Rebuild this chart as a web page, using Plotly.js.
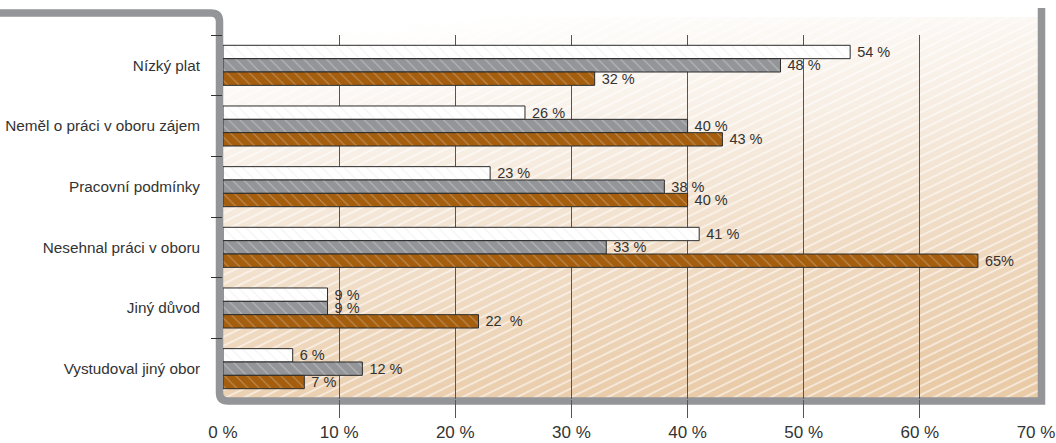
<!DOCTYPE html>
<html>
<head>
<meta charset="utf-8">
<script src="https://cdn.plot.ly/plotly-3.0.1.min.js"></script>
<style>
  html, body { margin: 0; padding: 0; background: #ffffff; }
  #chart { width: 1056px; height: 443px; }
</style>
</head>
<body>
<div id="chart"></div>
<script>
// ---- data ----
const categories = [
  'Nízký plat',
  'Neměl o práci v oboru zájem',
  'Pracovní podmínky',
  'Nesehnal práci v oboru',
  'Jiný důvod',
  'Vystudoval jiný obor'
];
const seriesWhite  = [54, 26, 23, 41, 9, 6];
const seriesGray   = [48, 40, 38, 33, 9, 12];
const seriesBrown  = [32, 43, 40, 65, 22, 7];
const labelsWhite  = ['54 %', '26 %', '23 %', '41 %', '9 %', '6 %'];
const labelsGray   = ['48 %', '40 %', '38 %', '33 %', '9 %', '12 %'];
const labelsBrown  = ['32 %', '43 %', '40 %', '65%', '22\u00a0\u00a0%', '7 %'];
const xTickVals = [0, 10, 20, 30, 40, 50, 60, 70];
const xTickText = ['0 %', '10 %', '20 %', '30 %', '40 %', '50 %', '60 %', '70 %'];
const gridVals  = [10, 20, 30, 40, 50, 60];

// ---- layout geometry (pixels) ----
const W = 1056, H = 443;
const ML = 223, MR = 20, MT = 35, MB = 44;
const PW = W - ML - MR, PH = H - MT - MB;
const px = x => (x - ML) / PW;
const py = y => (H - MB - y) / PH;

const FAMILY = '"Liberation Sans", Arial, sans-serif';
const txtFont = { family: FAMILY, size: 14.5, color: '#333333' };

function barTrace(vals, labels, color, patFg, patOpacity) {
  return {
    type: 'bar',
    orientation: 'h',
    y: categories,
    x: vals,
    text: labels,
    texttemplate: '\u00a0%{text}',
    textposition: 'outside',
    constraintext: 'none',
    cliponaxis: false,
    textfont: txtFont,
    hoverinfo: 'none',
    showlegend: false,
    marker: {
      color: color,
      line: { color: '#2b2b2b', width: 1 },
      pattern: {
        shape: '\\', fillmode: 'overlay', bgcolor: color,
        fgcolor: patFg, fgopacity: patOpacity, size: 8, solidity: 0.14
      }
    }
  };
}

const traces = [
  barTrace(seriesWhite, labelsWhite, '#ffffff', '#dddddd', 0.4),
  barTrace(seriesGray, labelsGray, '#939598', '#ffffff', 0.35),
  barTrace(seriesBrown, labelsBrown, '#a45e0e', '#ffffff', 0.3),
  { type: 'bar', orientation: 'h', x: [], y: [], xaxis: 'x2', yaxis: 'y', showlegend: false, hoverinfo: 'none' }
];

// hatched beige background
const bgSvg =
  "<svg xmlns='http://www.w3.org/2000/svg' width='820' height='385' viewBox='0 0 820 385' preserveAspectRatio='none'>" +
  "<defs>" +
  "<linearGradient id='g' x1='0.3' y1='0' x2='0.55' y2='1'>" +
  "<stop offset='0' stop-color='#ffffff'/>" +
  "<stop offset='0.3' stop-color='#f8f0e7'/>" +
  "<stop offset='0.65' stop-color='#f0dcc5'/>" +
  "<stop offset='1' stop-color='#e9cba8'/>" +
  "</linearGradient>" +
  "<pattern id='p' width='8' height='8' patternUnits='userSpaceOnUse' patternTransform='rotate(-26)'>" +
  "<line x1='0' y1='2' x2='8' y2='2' stroke='#ffffff' stroke-width='1.5' stroke-opacity='0.7'/>" +
  "</pattern>" +
  "</defs>" +
  "<rect width='820' height='385' fill='url(#g)'/>" +
  "<rect width='820' height='385' fill='url(#p)'/>" +
  "</svg>";
const bgUri = 'data:image/svg+xml;charset=utf-8,' + encodeURIComponent(bgSvg);

const framePath =
  'M ' + px(0) + ',' + py(13) +
  ' L ' + px(211) + ',' + py(13) +
  ' Q ' + px(219.5) + ',' + py(13) + ' ' + px(219.5) + ',' + py(21.5) +
  ' L ' + px(219.5) + ',' + py(392.5) +
  ' Q ' + px(219.5) + ',' + py(401) + ' ' + px(228) + ',' + py(401) +
  ' L ' + px(1041.5) + ',' + py(401) +
  ' L ' + px(1041.5) + ',' + py(8);

const layout = {
  width: W, height: H,
  margin: { l: ML, r: MR, t: MT, b: MB, pad: 0 },
  paper_bgcolor: '#ffffff',
  plot_bgcolor: 'rgba(0,0,0,0)',
  barmode: 'group',
  bargap: 0.34,
  bargroupgap: 0,
  showlegend: false,
  font: { family: FAMILY, color: '#333333' },
  xaxis: {
    range: [0, 70],
    tickmode: 'array',
    tickvals: xTickVals,
    ticktext: xTickText,
    showgrid: false,
    zeroline: false,
    showline: false,
    ticks: '',
    ticklabelstandoff: 21,
    ticklabeloverflow: 'allow',
    tickfont: { family: FAMILY, size: 17, color: '#333333' },
    fixedrange: true
  },
  xaxis2: {
    overlaying: 'x',
    anchor: 'y',
    side: 'bottom',
    range: [0, 70],
    tickmode: 'array',
    tickvals: gridVals,
    showticklabels: false,
    showgrid: true,
    gridcolor: '#555555',
    gridwidth: 1,
    zeroline: false,
    showline: false,
    ticks: 'outside',
    ticklen: 18,
    tickcolor: '#555555',
    tickwidth: 1,
    fixedrange: true
  },
  yaxis: {
    type: 'category',
    autorange: 'reversed',
    showgrid: false,
    zeroline: false,
    showline: false,
    ticks: 'outside',
    tickson: 'boundaries',
    ticklen: 11,
    tickcolor: '#333333',
    tickwidth: 1,
    ticklabelstandoff: 22,
    ticklabeloverflow: 'allow',
    tickfont: { family: FAMILY, size: 15.3, color: '#333333' },
    fixedrange: true
  },
  images: [{
    source: bgUri,
    xref: 'paper', yref: 'paper',
    x: px(223), y: py(17),
    sizex: px(1038) - px(223), sizey: py(17) - py(399),
    xanchor: 'left', yanchor: 'top',
    sizing: 'stretch',
    layer: 'below'
  }],
  shapes: [{
    type: 'path',
    xref: 'paper', yref: 'paper',
    path: framePath,
    line: { color: '#939598', width: 7.5 },
    fillcolor: 'rgba(0,0,0,0)',
    layer: 'below'
  }]
};

Plotly.newPlot('chart', traces, layout, { displayModeBar: false, staticPlot: true });
</script>
</body>
</html>
